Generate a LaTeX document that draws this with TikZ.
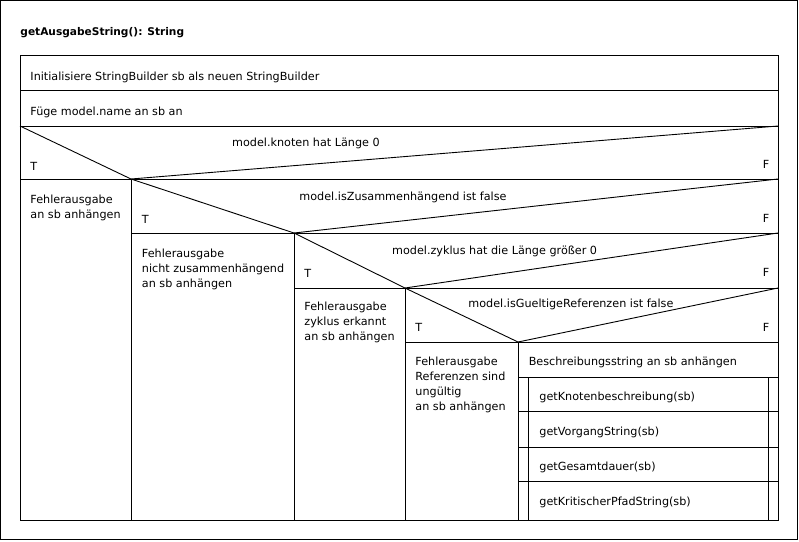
\documentclass[tikz,border=0pt]{standalone}
\usepackage{fontspec}
\setmainfont{DejaVu Sans}
\newcommand{\mlines}[1]{\begin{tabular}[t]{@{}l@{}}#1\end{tabular}}
\begin{document}
\begin{tikzpicture}[x=1pt,y=-1pt,line width=0.9pt,
  txt/.style={anchor=base west,inner sep=0pt,font=\fontsize{11.2}{14.8}\selectfont},
  ml/.style={txt}]
\useasboundingbox (0,0) rectangle (799,541);
\draw (0.5,0.5) rectangle (797.5,539.5);
% key coordinates
\coordinate (tl) at (20,55);
\coordinate (br) at (778,520);
\coordinate (v1) at (131,179);
\coordinate (v2) at (294,233);
\coordinate (v3) at (405,288);
\coordinate (v4) at (518,342);
\coordinate (c0l) at (20,126);  \coordinate (c0r) at (778,126);
\coordinate (c1r) at (778,179); \coordinate (c1l) at (20,179);
\coordinate (c2r) at (778,233);
\coordinate (c3r) at (778,288);
\coordinate (c4r) at (778,342);
% frame
\draw (tl) rectangle (br);
\draw (20,90) -- (778,90);
\draw (c0l) -- (c0r);
% conditions
\draw (c0l) -- (v1) -- (c0r);
\draw (c1l) -- (c1r);
\draw (v1) -- (v2) -- (c1r);
\draw (v1 |- v2) -- (c2r);
\draw (v2) -- (v3) -- (c2r);
\draw (v2 |- v3) -- (c3r);
\draw (v3) -- (v4) -- (c3r);
\draw (v3 |- v4) -- (c4r);
% verticals
\draw (v1) -- (v1 |- br);
\draw (v2) -- (v2 |- br);
\draw (v3) -- (v3 |- br);
\draw (v4) -- (v4 |- br);
% loop block
\draw (518,377) -- (778,377);
\draw (528,377) -- (528,520);
\draw (768,377) -- (768,520);
\draw (518,411) -- (778,411);
\draw (518,447) -- (778,447);
\draw (518,481) -- (778,481);
% texts
\node[txt,font=\fontsize{10.6}{14.8}\selectfont\bfseries] (title) at (20,35) {getAusgabeString(): String};
\node[txt] (s1) at (30,80.5) {Initialisiere StringBuilder sb als neuen StringBuilder};
\node[txt] (s2) at (30,115) {Füge model.name an sb an};
\node[txt] (k1) at (231.7,146.5) {model.knoten hat Länge 0};
\node[txt] (t1) at (30,170) {T};
\node[txt] (f1) at (762.3,168.5) {F};
\node[txt] (k2) at (299,200) {model.isZusammenhängend ist false};
\node[txt] (t2) at (141.5,223.3) {T};
\node[txt] (f2) at (762.3,222.5) {F};
\node[txt] (k3) at (391.7,254.5) {model.zyklus hat die Länge größer 0};
\node[txt] (t3) at (304,277) {T};
\node[txt] (f3) at (762.3,276.5) {F};
\node[txt] (k4) at (468,307.5) {model.isGueltigeReferenzen ist false};
\node[txt] (t4) at (415,331.7) {T};
\node[txt] (f4) at (762.3,331) {F};
\node[ml] (b1) at (30,203.5) {\mlines{Fehlerausgabe\\an sb anhängen}};
\node[ml] (b2) at (141.5,257.7) {\mlines{Fehlerausgabe\\nicht zusammenhängend\\an sb anhängen}};
\node[ml] (b3) at (304,310.7) {\mlines{Fehlerausgabe\\zyklus erkannt\\an sb anhängen}};
\node[ml] (b4) at (415,365.7) {\mlines{Fehlerausgabe\\Referenzen sind\\ungültig\\an sb anhängen}};
\node[txt] (d0) at (528.3,365.7) {Beschreibungsstring an sb anhängen};
\node[txt] (d1) at (539,400.7) {getKnotenbeschreibung(sb)};
\node[txt] (d2) at (539,435.7) {getVorgangString(sb)};
\node[txt] (d3) at (539,470.7) {getGesamtdauer(sb)};
\node[txt] (d4) at (539,505.7) {getKritischerPfadString(sb)};
\end{tikzpicture}
\end{document}
